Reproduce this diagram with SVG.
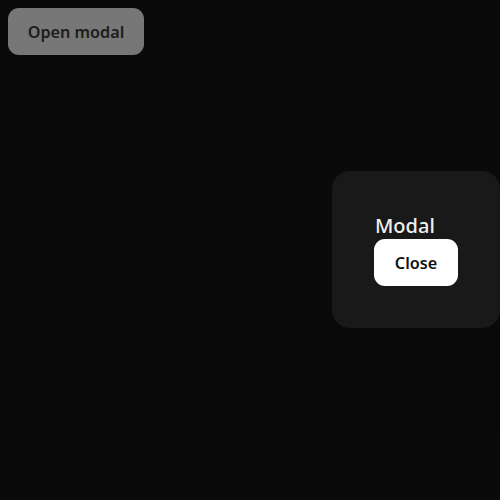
<svg xmlns="http://www.w3.org/2000/svg" width="500" height="500" viewBox="0 0 500 500">
<style>
.btn-text{font-family:"Noto Sans","Open Sans",sans-serif;font-weight:600;font-size:16.2px;text-anchor:middle}
</style>
<rect x="0" y="0" width="500" height="500" fill="#0a0a0a"/>
<g id="halo"><circle cx="405" cy="320" r="146" fill="#090909" stroke="#0b0b0b" stroke-width="2"/></g>
<g id="open-modal">
<rect x="8" y="8" width="136" height="47" rx="11" fill="#777777"/>
<text class="btn-text" x="76" y="38" fill="#1c1c1c">Open modal</text>
</g>
<g id="modal">
<rect x="332" y="171" width="168" height="157" rx="18" fill="#191919"/>
<text x="375" y="233" font-family="Noto Sans, Open Sans, sans-serif" font-size="20" font-weight="500" fill="#f0f0f0">Modal</text>
<g id="close">
<rect x="374" y="239" width="84" height="47" rx="11" fill="#ffffff"/>
<text class="btn-text" x="416" y="269" fill="#111111" font-size="17">Close</text>
</g>
</g>
<g id="connectors"/>
</svg>
